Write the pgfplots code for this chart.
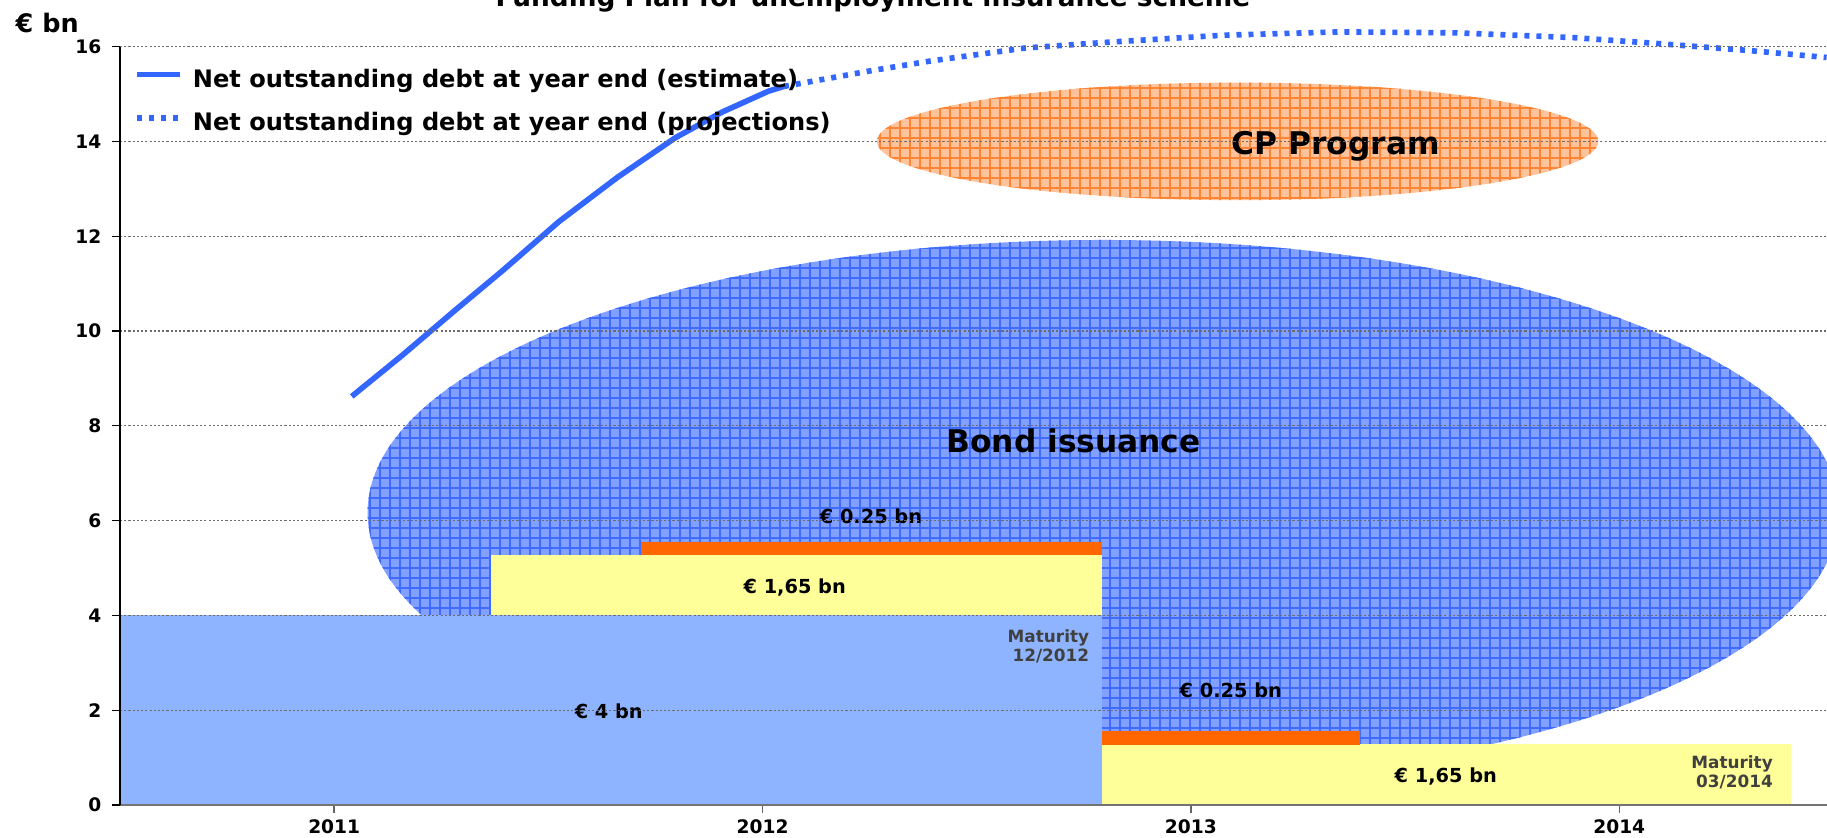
\documentclass[border=0pt]{standalone}
\usepackage{fontspec}
\setmainfont{DejaVu Sans}
\usepackage{pgfplots}
\pgfplotsset{compat=1.18}
\usetikzlibrary{patterns.meta}
\definecolor{rectblue}{HTML}{8FB4FF}
\definecolor{yel}{HTML}{FFFF99}
\definecolor{org}{HTML}{FF6600}
\definecolor{bondfill}{HTML}{82A0FF}
\definecolor{bondline}{HTML}{3F6CFF}
\definecolor{cpfill}{HTML}{FFC39C}
\definecolor{cpline}{HTML}{FF8433}
\definecolor{linec}{HTML}{3366FF}
\definecolor{matgray}{HTML}{404040}
\newcommand{\lab}[1]{\fontsize{#1}{#1}\selectfont\bfseries}
\begin{document}
\begin{tikzpicture}
\begin{axis}[
  at={(1.20cm,0.33cm)}, anchor=south west,
  scale only axis, width=17.07cm, height=7.584cm,
  xmin=2010.5, xmax=2014.485, ymin=0, ymax=16,
  clip=false, axis on top,
  axis x line=bottom, axis y line=left,
  x axis line style={draw=gray!90!black, line width=0.7pt, -},
  y axis line style={draw=black, line width=0.35pt, -},
  xtick={2011,2012,2013,2014}, xticklabels={2011,2012,2013,2014},
  ytick={0,2,...,16},
  tick align=outside,
  major tick length=0.08cm,
  xtick style={draw=gray!80!black, line width=0.4pt},
  ytick style={draw=black, line width=0.35pt},
  /pgf/number format/assume math mode=true,
  ticklabel style={font=\lab{5.3}},
  yticklabel style={inner sep=0pt, xshift=-0.1cm},
  xticklabel style={inner sep=0pt, yshift=-0.06cm},
  ymajorgrids,
  major grid style={draw=gray!85!black, line width=0.3pt, dash pattern=on 0.6pt off 0.6pt},
  legend style={at={(axis description cs:0.008,0.981)}, anchor=north west,
    draw=none, fill=none, font=\lab{6.85}, row sep=0.06cm, inner sep=0pt,
    nodes={inner xsep=0.1cm}},
  legend cell align=left,
  legend image code/.code={\draw[#1] (0cm,0.06cm) -- (0.43cm,0.06cm);},
]
% CP programme ellipse
\fill[cpfill] (axis cs:2013.109,14.0) ellipse [x radius=0.842, y radius=1.24];
\fill[pattern={Lines[angle=0,distance=0.1cm,line width=0.022cm]}, pattern color=cpline] (axis cs:2013.109,14.0) ellipse [x radius=0.842, y radius=1.24];
\fill[pattern={Lines[angle=90,distance=0.1cm,line width=0.022cm]}, pattern color=cpline] (axis cs:2013.109,14.0) ellipse [x radius=0.842, y radius=1.24];
% Bond issuance ellipse
\fill[bondfill] (axis cs:2012.796,6.17) ellipse [x radius=1.718, y radius=5.75];
\fill[pattern={Lines[angle=0,distance=0.1cm,line width=0.025cm]}, pattern color=bondline] (axis cs:2012.796,6.17) ellipse [x radius=1.718, y radius=5.75];
\fill[pattern={Lines[angle=90,distance=0.1cm,line width=0.025cm]}, pattern color=bondline] (axis cs:2012.796,6.17) ellipse [x radius=1.718, y radius=5.75];
% funding blocks
\addplot[fill=rectblue, draw=none, forget plot] coordinates {(2010.5,0) (2012.793,0) (2012.793,4) (2010.5,4)} -- cycle;
\addplot[fill=yel, draw=none, forget plot] coordinates {(2011.365,4) (2012.793,4) (2012.793,5.274) (2011.365,5.274)} -- cycle;
\addplot[fill=org, draw=none, forget plot] coordinates {(2011.716,5.274) (2012.793,5.274) (2012.793,5.555) (2011.716,5.555)} -- cycle;
\addplot[fill=yel, draw=none, forget plot] coordinates {(2012.793,0) (2014.40,0) (2014.40,1.287) (2012.793,1.287)} -- cycle;
\addplot[fill=org, draw=none, forget plot] coordinates {(2012.793,1.275) (2013.394,1.275) (2013.394,1.561) (2012.793,1.561)} -- cycle;
% debt lines
\addplot[linec, line width=1.6pt] coordinates {
(2011.041,8.62) (2011.158,9.48) (2011.280,10.42) (2011.394,11.28) (2011.525,12.31)
(2011.661,13.24) (2011.797,14.08) (2011.906,14.62) (2012.014,15.06) (2012.05,15.16)};
\addlegendentry{Net outstanding debt at year end (estimate)}
\addplot[linec, line width=1.6pt, dash pattern=on 0.05cm off 0.07cm] coordinates {
(2012.05,15.16) (2012.259,15.50) (2012.395,15.70) (2012.613,15.97) (2012.803,16.09)
(2013.075,16.24) (2013.347,16.31) (2013.619,16.29) (2013.891,16.19) (2014.081,16.07)
(2014.299,15.92) (2014.484,15.77)};
\addlegendentry{Net outstanding debt at year end (projections)}
% labels
\node[anchor=base, font=\lab{8.9}, inner sep=0pt] at (axis cs:2012.726,7.43) {Bond issuance};
\node[anchor=base, font=\lab{8.9}, inner sep=0pt] at (axis cs:2013.338,13.73) {CP Program};
\node[anchor=base, font=\lab{5.5}, inner sep=0pt] at (axis cs:2011.641,1.835) {€ 4 bn};
\node[anchor=base, font=\lab{5.5}, inner sep=0pt] at (axis cs:2012.253,5.943) {€ 0.25 bn};
\node[anchor=base, font=\lab{5.5}, inner sep=0pt] at (axis cs:2012.075,4.466) {€ 1,65 bn};
\node[anchor=base, font=\lab{5.5}, inner sep=0pt] at (axis cs:2013.093,2.272) {€ 0.25 bn};
\node[anchor=base, font=\lab{5.5}, inner sep=0pt] at (axis cs:2013.595,0.464) {€ 1,65 bn};
\node[anchor=base east, font=\lab{4.8}, text=matgray, inner sep=0pt] at (axis cs:2012.764,3.418) {Maturity};
\node[anchor=base east, font=\lab{4.8}, text=matgray, inner sep=0pt] at (axis cs:2012.764,3.023) {12/2012};
\node[anchor=base east, font=\lab{4.8}, text=matgray, inner sep=0pt] at (axis cs:2014.36,0.78) {Maturity};
\node[anchor=base east, font=\lab{4.8}, text=matgray, inner sep=0pt] at (axis cs:2014.36,0.365) {03/2014};
\end{axis}
\node[anchor=base west, font=\lab{7.25}, inner sep=0pt] at (0.15,8.05) {€ bn};
\node[anchor=base, font=\lab{7.5}, inner sep=0pt] at (8.73,8.315) {Funding Plan for unemployment insurance scheme};
\pgfresetboundingbox
\useasboundingbox (0,0) rectangle (18.27,8.38);
\end{tikzpicture}
\end{document}
